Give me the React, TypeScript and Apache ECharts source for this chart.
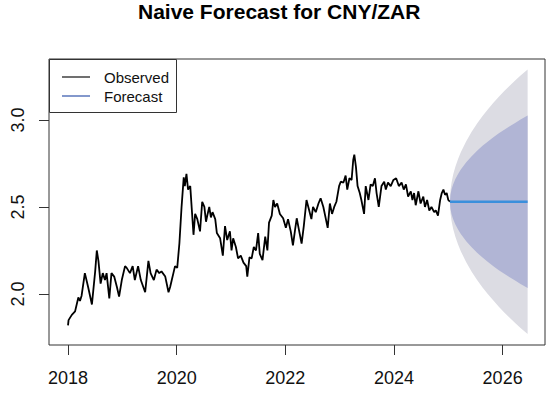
import { useEffect, useRef } from 'react';
import * as echarts from 'echarts';

const obsYears = [
  2018.00, 2018.01, 2018.07, 2018.13, 2018.19, 2018.22, 2018.25, 2018.31, 2018.37, 2018.44,
  2018.50, 2018.53, 2018.56, 2018.60, 2018.64, 2018.68, 2018.71, 2018.76, 2018.80, 2018.85,
  2018.90, 2018.94, 2018.99, 2019.05, 2019.08, 2019.14, 2019.19, 2019.23, 2019.29, 2019.34,
  2019.42, 2019.48, 2019.52, 2019.58, 2019.63, 2019.68, 2019.72, 2019.79, 2019.85, 2019.88,
  2019.91, 2019.94, 2019.97, 2020.01, 2020.05, 2020.09, 2020.13, 2020.15, 2020.18, 2020.21,
  2020.25, 2020.28, 2020.31, 2020.34, 2020.38, 2020.43, 2020.47, 2020.51, 2020.54, 2020.57,
  2020.60, 2020.63, 2020.66, 2020.71, 2020.74, 2020.80, 2020.85, 2020.89, 2020.93, 2020.98,
  2021.01, 2021.04, 2021.09, 2021.13, 2021.18, 2021.23, 2021.28, 2021.30, 2021.34, 2021.38,
  2021.42, 2021.46, 2021.50, 2021.53, 2021.58, 2021.63, 2021.67, 2021.70, 2021.75, 2021.78,
  2021.81, 2021.85, 2021.90, 2021.96, 2022.01, 2022.05, 2022.10, 2022.14, 2022.18, 2022.21,
  2022.25, 2022.30, 2022.34, 2022.39, 2022.44, 2022.48, 2022.51, 2022.56, 2022.61, 2022.65,
  2022.70, 2022.74, 2022.78, 2022.82, 2022.86, 2022.90, 2022.94, 2022.99, 2023.02, 2023.07,
  2023.11, 2023.14, 2023.18, 2023.22, 2023.25, 2023.27, 2023.30, 2023.33, 2023.37, 2023.40,
  2023.45, 2023.48, 2023.53, 2023.57, 2023.61, 2023.65, 2023.68, 2023.72, 2023.77, 2023.82,
  2023.85, 2023.89, 2023.94, 2023.99, 2024.04, 2024.09, 2024.14, 2024.18, 2024.22, 2024.26,
  2024.31, 2024.34, 2024.37, 2024.40, 2024.45, 2024.49, 2024.54, 2024.57, 2024.61, 2024.65,
  2024.69, 2024.74, 2024.77, 2024.81, 2024.85, 2024.88, 2024.91, 2024.94, 2024.97, 2025.00,
  2025.03,
];
const obsValues = [
  1.82, 1.85, 1.88, 1.90, 1.98, 1.96, 1.99, 2.12, 2.04, 1.94,
  2.13, 2.25, 2.19, 2.06, 2.12, 2.08, 2.12, 1.975, 2.12, 2.10,
  2.04, 1.985, 2.08, 2.16, 2.15, 2.12, 2.16, 2.08, 2.16, 2.08,
  2.01, 2.19, 2.12, 2.08, 2.14, 2.12, 2.13, 2.10, 2.01, 2.04,
  2.08, 2.12, 2.16, 2.15, 2.29, 2.50, 2.67, 2.62, 2.69, 2.60,
  2.62, 2.48, 2.34, 2.46, 2.43, 2.36, 2.53, 2.50, 2.415, 2.46,
  2.50, 2.44, 2.47, 2.43, 2.35, 2.32, 2.22, 2.39, 2.31, 2.36,
  2.25, 2.32, 2.27, 2.205, 2.22, 2.18, 2.16, 2.10, 2.21, 2.205,
  2.27, 2.25, 2.35, 2.23, 2.195, 2.33, 2.25, 2.41, 2.45, 2.54,
  2.50, 2.52, 2.46, 2.435, 2.38, 2.43, 2.36, 2.28, 2.37, 2.435,
  2.37, 2.29, 2.39, 2.54, 2.48, 2.43, 2.50, 2.47, 2.52, 2.55,
  2.50, 2.44, 2.38, 2.52, 2.46, 2.50, 2.53, 2.62, 2.645, 2.64,
  2.68, 2.60, 2.665, 2.655, 2.77, 2.80, 2.73, 2.62, 2.58, 2.54,
  2.46, 2.62, 2.54, 2.63, 2.62, 2.665, 2.58, 2.50, 2.62, 2.645,
  2.60, 2.64, 2.62, 2.655, 2.665, 2.62, 2.64, 2.60, 2.63, 2.56,
  2.59, 2.54, 2.58, 2.51, 2.59, 2.52, 2.56, 2.50, 2.54, 2.48,
  2.50, 2.47, 2.48, 2.45, 2.54, 2.58, 2.60, 2.57, 2.58, 2.54,
  2.53,
];

const fcYears = [
  2025.03, 2025.04, 2025.06, 2025.09, 2025.13, 2025.18, 2025.23, 2025.33, 2025.43, 2025.53,
  2025.63, 2025.73, 2025.83, 2025.93, 2026.03, 2026.13, 2026.23, 2026.33, 2026.46,
];
const fcMean = [
  2.53, 2.53, 2.53, 2.53, 2.53, 2.53, 2.53, 2.53, 2.53, 2.53,
  2.53, 2.53, 2.53, 2.53, 2.53, 2.53, 2.53, 2.53, 2.53,
];
const hi95 = [
  2.53, 2.594, 2.640, 2.686, 2.731, 2.776, 2.814, 2.878, 2.932, 2.979,
  3.022, 3.062, 3.098, 3.133, 3.166, 3.197, 3.226, 3.255, 3.29,
];
const lo95 = [
  2.53, 2.466, 2.420, 2.374, 2.329, 2.284, 2.246, 2.182, 2.128, 2.081,
  2.038, 1.998, 1.962, 1.927, 1.894, 1.863, 1.834, 1.805, 1.77,
];
const hi80 = [
  2.53, 2.571, 2.602, 2.631, 2.661, 2.690, 2.715, 2.757, 2.792, 2.823,
  2.851, 2.876, 2.900, 2.923, 2.944, 2.964, 2.983, 3.002, 3.025,
];
const lo80 = [
  2.53, 2.489, 2.458, 2.429, 2.399, 2.370, 2.345, 2.303, 2.268, 2.237,
  2.209, 2.184, 2.160, 2.137, 2.116, 2.096, 2.077, 2.058, 2.035,
];

const xTicks = [2018, 2020, 2022, 2024, 2026];
const yTicks = [2.0, 2.5, 3.0];

const FONT = 'Liberation Sans, Arial, Helvetica, sans-serif';

function bandSeries(hi: number[], lo: number[], fill: string, z: number) {
  return {
    type: 'custom',
    z,
    silent: true,
    data: [[fcYears[0], fcMean[0]]],
    renderItem: (_params: any, api: any) => {
      const pts: number[][] = [];
      for (let i = 0; i < fcYears.length; i++) pts.push(api.coord([fcYears[i], hi[i]]));
      for (let i = fcYears.length - 1; i >= 0; i--) pts.push(api.coord([fcYears[i], lo[i]]));
      return { type: 'polygon', shape: { points: pts }, style: { fill, stroke: null } };
    },
  };
}

export default function App() {
  const ref = useRef<HTMLDivElement>(null);
  useEffect(() => {
    if (!ref.current) return;
    const chart = echarts.init(ref.current, null, { renderer: 'svg' });
    chart.setOption({
      animation: false,
      backgroundColor: '#ffffff',
      grid: {
        left: 49, top: 59, width: 496, height: 286,
        show: true, borderColor: '#333333', borderWidth: 1, backgroundColor: 'transparent',
      },
      xAxis: {
        type: 'value', min: 2017.65, max: 2026.78,
        axisLine: { show: false },
        splitLine: { show: false },
        axisTick: { show: true, inside: false, length: 10, lineStyle: { color: '#333333', width: 1 }, customValues: xTicks },
        axisLabel: { customValues: xTicks, margin: 24, fontSize: 18, fontFamily: FONT, color: '#111111', formatter: (v: number) => String(Math.round(v)) },
      },
      yAxis: {
        type: 'value', min: 1.707, max: 3.35,
        axisLine: { show: false },
        splitLine: { show: false },
        axisTick: { show: true, inside: false, length: 10, lineStyle: { color: '#333333', width: 1 }, customValues: yTicks },
        axisLabel: { customValues: yTicks, rotate: 90, margin: 22, fontSize: 18, fontFamily: FONT, color: '#111111', formatter: (v: number) => v.toFixed(1) },
      },
      series: [
        bandSeries(hi95, lo95, '#dcdce3', 1),
        bandSeries(hi80, lo80, '#b1b5d5', 2),
        {
          type: 'line', z: 3, showSymbol: false, silent: true,
          data: obsYears.map((x, i) => [x, obsValues[i]]),
          lineStyle: { color: '#000000', width: 1.8 },
        },
        {
          type: 'line', z: 4, showSymbol: false, silent: true,
          data: fcYears.map((x, i) => [x, fcMean[i]]),
          lineStyle: { color: '#3a8fdc', width: 2.5 },
        },
      ],
      graphic: [
        {
          type: 'text', left: 282 - 144, top: 1, z: 10,
          style: { text: 'Naive Forecast for CNY/ZAR', font: `bold 21px ${FONT}`, fill: '#000000' },
        },
        {
          type: 'rect', z: 10, shape: { x: 49.5, y: 59.5, width: 127, height: 53 },
          style: { fill: '#ffffff', stroke: '#333333', lineWidth: 1 },
        },
        { type: 'line', z: 11, shape: { x1: 62, y1: 77, x2: 90, y2: 77 }, style: { stroke: '#222222', lineWidth: 1.3 } },
        { type: 'line', z: 11, shape: { x1: 62, y1: 96, x2: 90, y2: 96 }, style: { stroke: '#4060b0', lineWidth: 1.3 } },
        { type: 'text', z: 11, x: 104, y: 77, style: { text: 'Observed', font: `15px ${FONT}`, fill: '#111111', verticalAlign: 'middle' } },
        { type: 'text', z: 11, x: 104, y: 96, style: { text: 'Forecast', font: `15px ${FONT}`, fill: '#111111', verticalAlign: 'middle' } },
      ],
    });
    return () => chart.dispose();
  }, []);
  return <div ref={ref} style={{ position: 'fixed', left: 0, top: 0, width: 550, height: 394 }} />;
}
